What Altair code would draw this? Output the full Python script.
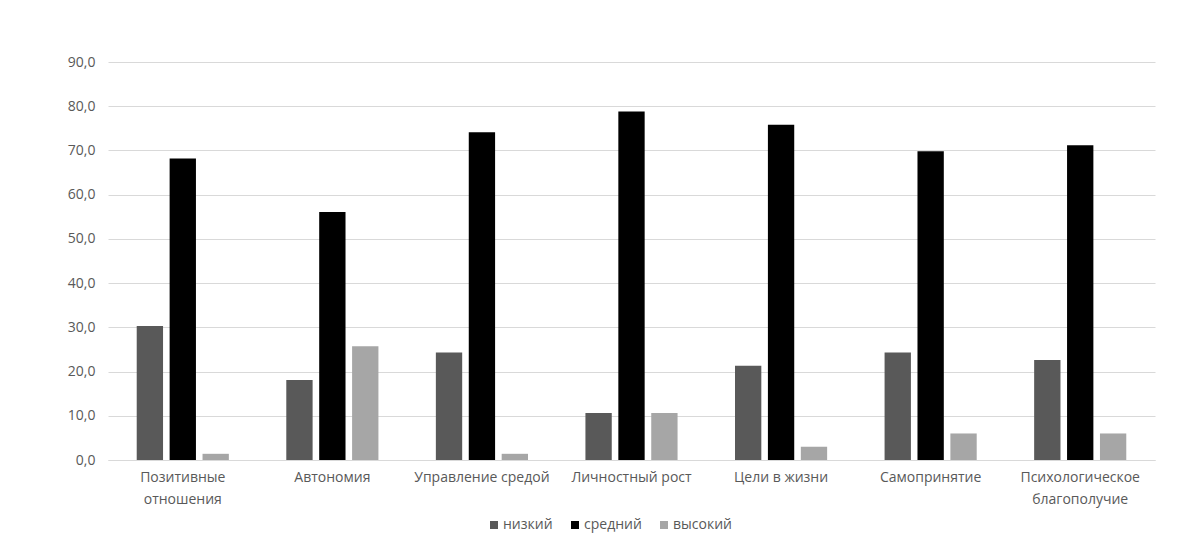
import altair as alt
import pandas as pd

categories = [
    "Позитивные отношения",
    "Автономия",
    "Управление средой",
    "Личностный рост",
    "Цели в жизни",
    "Самопринятие",
    "Психологическое благополучие",
]
levels = ["низкий", "средний", "высокий"]
low = [30.3, 18.1, 24.3, 10.6, 21.3, 24.3, 22.6]
mid = [68.2, 56.1, 74.1, 78.8, 75.8, 69.8, 71.2]
high = [1.4, 25.7, 1.4, 10.6, 3.0, 6.0, 6.0]
colors = ["#595959", "#000000", "#a6a6a6"]
y_ticks = [0, 10, 20, 30, 40, 50, 60, 70, 80, 90]

rows = []
for i, c in enumerate(categories):
    for lvl, series in zip(levels, [low, mid, high]):
        rows.append({"cat": c, "level": lvl, "value": series[i]})
df = pd.DataFrame(rows)

FONT = "Open Sans"

chart = (
    alt.Chart(df)
    .mark_bar()
    .encode(
        x=alt.X(
            "cat:N",
            sort=categories,
            title=None,
            scale=alt.Scale(paddingInner=0.34, paddingOuter=0.17),
            axis=alt.Axis(
                labelAngle=0,
                labelExpr="length(datum.label) > 18 ? split(datum.label, ' ') : datum.label",
                labelFont=FONT,
                labelFontSize=14,
                labelColor="#595959",
                labelLineHeight=22,
                labelPadding=10,
                labelBaseline="top",
                ticks=False,
                domain=True,
                domainColor="#d9d9d9",
                grid=False,
            ),
        ),
        xOffset=alt.XOffset(
            "level:N",
            sort=levels,
            scale=alt.Scale(paddingInner=0.2, paddingOuter=0.1),
        ),
        y=alt.Y(
            "value:Q",
            title=None,
            scale=alt.Scale(domain=[0, 90], nice=False),
            axis=alt.Axis(
                values=y_ticks,
                labelExpr="replace(format(datum.value, '.1f'), '.', ',')",
                labelFont=FONT,
                labelFontSize=14,
                labelColor="#595959",
                labelPadding=13,
                ticks=False,
                domain=False,
                grid=True,
                gridColor="#d9d9d9",
                gridWidth=1,
            ),
        ),
        color=alt.Color(
            "level:N",
            sort=levels,
            scale=alt.Scale(domain=levels, range=colors),
            legend=alt.Legend(
                title=None,
                orient="none",
                direction="horizontal",
                legendX=379,
                legendY=456,
                symbolType="square",
                symbolSize=64,
                symbolStrokeWidth=0,
                labelFont=FONT,
                labelFontSize=14,
                labelColor="#595959",
                labelOffset=2,
                columnPadding=15,
            ),
        ),
    )
    .properties(
        width=1047,
        height=398,
        background="white",
        autosize=alt.AutoSizeParams(type="none"),
        padding={"left": 100, "top": 54, "right": 18, "bottom": 78},
    )
    .configure_view(strokeWidth=0)
)

chart.save("out.html", embed_options={"renderer": "svg", "actions": False})
